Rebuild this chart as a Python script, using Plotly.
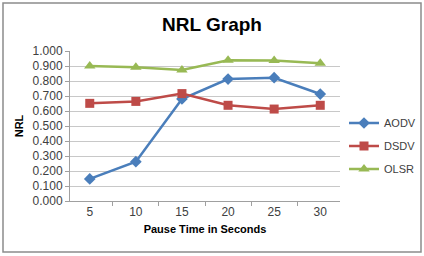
import plotly.graph_objects as go

categories = ["5", "10", "15", "20", "25", "30"]
aodv = [0.147, 0.262, 0.680, 0.813, 0.822, 0.713]
dsdv = [0.651, 0.664, 0.716, 0.638, 0.613, 0.638]
olsr = [0.900, 0.891, 0.873, 0.938, 0.936, 0.918]
y_ticks = [0.0, 0.1, 0.2, 0.3, 0.4, 0.5, 0.6, 0.7, 0.8, 0.9, 1.0]

FONT = "Liberation Sans"

fig = go.Figure()
series = [
    ("AODV", aodv, "#4A7EBB", "diamond", 9),
    ("DSDV", dsdv, "#BE4B48", "square", 9),
    ("OLSR", olsr, "#98B954", "triangle-up", 10),
]
for i, (name, vals, color, sym, size) in enumerate(series):
    fig.add_trace(go.Scatter(
        x=categories, y=vals, name=name, mode="lines+markers",
        line=dict(color=color, width=2.5),
        marker=dict(symbol=sym, size=size, color=color),
        legendgroup=name,
    ))

fig.update_layout(
    width=424, height=256,
    margin=dict(l=70, r=84, t=51, b=55, autoexpand=False),
    paper_bgcolor="white", plot_bgcolor="white",
    title=dict(text="<b>NRL Graph</b>", x=0.5, xanchor="center", y=1 - 24/256, yanchor="middle",
               font=dict(family=FONT, size=19, color="#000000")),
    font=dict(family=FONT, size=11, color="#404040"),
    showlegend=True,
    legend=dict(xref="container", yref="container", x=344/424, y=1 - 146/256,
                xanchor="left", yanchor="middle",
                font=dict(family=FONT, size=11, color="#404040"),
                traceorder="grouped", tracegroupgap=4, itemwidth=30,
                bgcolor="rgba(0,0,0,0)"),
    xaxis=dict(type="category", showgrid=False, showline=True, linecolor="#A0A0A0", linewidth=1,
               ticks="outside", tickson="boundaries", ticklen=4, tickcolor="#A0A0A0",
               tickfont=dict(size=12, color="#404040"),
               title=dict(text="<b>Pause Time in Seconds</b>", font=dict(size=11, color="#000000"), standoff=6)),
    yaxis=dict(range=[0, 1.0], tickvals=y_ticks, tickformat=".3f", showgrid=True, gridcolor="#C8C8C8",
               showline=True, linecolor="#A0A0A0", linewidth=1, ticks="outside", ticklen=4,
               tickcolor="#A0A0A0", tickfont=dict(size=12, color="#404040"), zeroline=False,
               title=dict(text="<b>NRL</b>", font=dict(size=11, color="#000000"), standoff=6)),
    shapes=[dict(type="rect", xref="paper", yref="paper",
                 x0=(3-70)/270, x1=(421-70)/270, y0=(201-252)/150, y1=(201-3)/150,
                 line=dict(color="#8C8C8C", width=1.5), fillcolor="rgba(0,0,0,0)", layer="below")],
)

fig.write_html("out.html", config={"displayModeBar": False},
               post_script="document.body.style.margin='0';document.body.style.overflow='hidden';")
